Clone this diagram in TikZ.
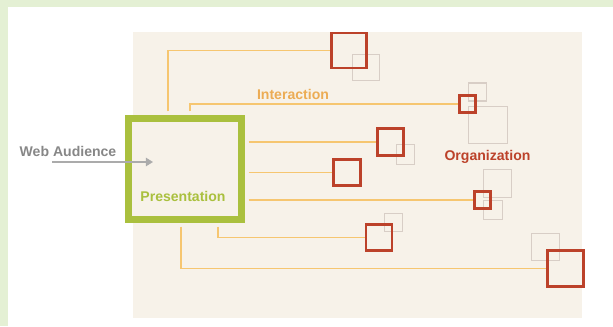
\documentclass[tikz,border=0pt]{standalone}
\usepackage{fontspec}
\setmainfont{Liberation Sans}
\usetikzlibrary{arrows.meta}
\definecolor{framegreen}{RGB}{228,240,212}
\definecolor{paper}{RGB}{247,242,233}
\definecolor{wire}{RGB}{246,198,112}
\definecolor{orgred}{RGB}{188,66,42}
\definecolor{presgreen}{RGB}{170,192,62}
\definecolor{shadow}{RGB}{216,206,198}
\definecolor{audgrey}{RGB}{135,135,135}
\definecolor{interorange}{RGB}{236,172,84}
\begin{document}
\begin{tikzpicture}[x=0.03cm, y=-0.03cm]
\tikzset{
  orgbox/.style={shape=rectangle, draw=orgred, line width=2.4pt, inner sep=0pt},
  ghost/.style={shape=rectangle, draw=shadow, line width=1pt, inner sep=0pt},
  link/.style={draw=wire, line width=1.6pt},
  caption/.style={font=\fontsize{12}{14}\selectfont\bfseries, inner sep=0pt}
}
\useasboundingbox (0,0) rectangle (613,326);
\fill[framegreen] (0,0) rectangle (613,326);
\fill[white] (8,7) rectangle (613,326);
\fill[paper] (133,32) rectangle (582,318);
% grey shadow squares
\node[ghost, minimum size=0.8cm] (g1) at (366,67.5) {};
\node[ghost, minimum size=0.54cm] (g2a) at (477.5,92) {};
\node[ghost, minimum width=1.17cm, minimum height=1.11cm] (g2b) at (488,125) {};
\node[ghost, minimum width=0.55cm, minimum height=0.6cm] (g3) at (405.5,154.5) {};
\node[ghost, minimum size=0.84cm] (g5a) at (497.5,183.5) {};
\node[ghost, minimum size=0.56cm] (g5b) at (493,210) {};
\node[ghost, minimum size=0.54cm] (g6) at (393.5,222.5) {};
\node[ghost, minimum width=0.84cm, minimum height=0.81cm] (g7) at (545.5,247) {};
% presentation box
\node[shape=rectangle, draw=presgreen, fill=paper, line width=6pt, minimum width=3.39cm, minimum height=3.03cm] (pres) at (185,169) {};
\node[caption, text=presgreen] (prestext) at (183,196) {Presentation};
% organization squares
\node[orgbox, minimum size=1.05cm] (r1) at (349,50.5) {};
\node[orgbox, minimum size=0.5cm] (r2) at (467.5,104) {};
\node[orgbox, minimum size=0.8cm] (r3) at (390.5,142) {};
\node[orgbox, minimum size=0.8cm] (r4) at (347,172.5) {};
\node[orgbox, minimum size=0.5cm] (r5) at (482.5,200) {};
\node[orgbox, minimum size=0.78cm] (r6) at (379,237.5) {};
\node[orgbox, minimum size=1.08cm] (r7) at (565.5,268.5) {};
% taps on the box
\coordinate (tap1) at (168,0);
\coordinate (tap2) at (190,0);
\coordinate (tap6) at (218,0);
\coordinate (tap7) at (181,0);
\path[link, shorten <=3pt] (tap1 |- pres.north) |- (r1);
\path[link, shorten <=3pt] (tap2 |- pres.north) |- (r2);
\path[link, shorten <=3pt] (pres.east |- r3) -- (r3);
\path[link, shorten <=3pt] (pres.east |- r4) -- (r4);
\path[link, shorten <=3pt] (pres.east |- r5) -- (r5);
\path[link, shorten <=3pt] (tap6 |- pres.south) |- (r6);
\path[link, shorten <=3pt] (tap7 |- pres.south) |- (r7);
% labels
\node[caption, text=interorange] (inter) at (293,94) {Interaction};
\node[caption, text=orgred] (org) at (487.5,157) {Organization};
\node[caption, text=audgrey] (aud) at (68,151) {Web Audience};
\coordinate (audstart) at (52,162);
\coordinate (audend) at (153,162);
\draw[audgrey!70, line width=1.4pt, -{Triangle[width=7pt,length=6pt]}] (audstart) -- (audend);
\end{tikzpicture}
\end{document}
